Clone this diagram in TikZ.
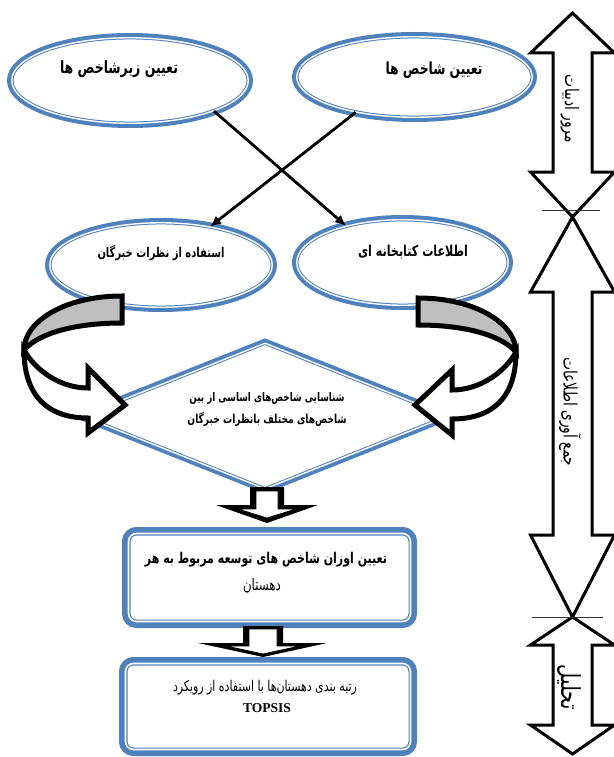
\documentclass[tikz,border=0pt]{standalone}
\usepackage{fontspec}
\usepackage{graphicx}
\usetikzlibrary{shapes.geometric,arrows.meta}
\TeXXeTstate=1
\newfontfamily\fa[Script=Arabic]{DejaVu Sans}
\newfontfamily\tnr{Liberation Serif}
\definecolor{oblue}{RGB}{79,129,189}
\definecolor{bandgray}{RGB}{191,191,191}
\newcommand{\fw}[2]{\scalebox{1}[1.35]{\resizebox{#1pt}{!}{\fa #2}}}
\newcommand{\fwb}[2]{\scalebox{1}[1.35]{\resizebox{#1pt}{!}{\fa\bfseries #2}}}
\tikzset{
  ellbox/.style={ellipse, fill=white, draw=oblue, line width=1pt, double=white, double distance=1.4pt, preaction={draw=oblue, line width=9.5pt}, inner sep=0pt},
  diabox/.style={diamond, aspect=2.5, fill=white, draw=oblue, line width=1pt, double=white, double distance=1.4pt, preaction={draw=oblue, line width=9pt}, inner sep=0pt},
  rbox/.style={rectangle, rounded corners=8pt, fill=white, draw=oblue, line width=1.2pt, double=white, double distance=1.6pt, preaction={draw=oblue, line width=13pt}, inner sep=0pt},
  conn/.style={draw=black, line width=2.8pt, -{Latex[length=11pt,width=10pt]}},
  blk/.style={draw=black, line width=3pt, fill=white, line join=miter},
  band/.style={draw=black, line width=5pt, line join=miter},
  txt/.style={inner sep=0pt},
  thin/.style={draw=black!80, line width=0.8pt}
}
\begin{document}
\begin{tikzpicture}[x=1pt,y=-1pt]
\useasboundingbox (0,0) rectangle (613,757);

% top ellipses
\node[ellbox, minimum width=236.5pt, minimum height=85.5pt] (tl) at (130,80.5) {};
\node[ellbox, minimum width=235.5pt, minimum height=80.5pt] (tr) at (414.5,77) {};
% middle ellipses
\node[ellbox, minimum width=222.5pt, minimum height=84.5pt] (ml) at (161,265) {};
\node[ellbox, minimum width=211.5pt, minimum height=85.5pt] (mr) at (402.5,262.5) {};

\node[txt] (tlT) at (119,69) {\fwb{118}{\beginR تعیین زیرشاخص ها\endR}};
\node[txt] (trT) at (434,70) {\fwb{97}{\beginR تعیین شاخص ها\endR}};
\node[txt] (mlT) at (161,253) {\fwb{127}{\beginR استفاده از نظرات خبرگان\endR}};
\node[txt] (mrT) at (413,252) {\fwb{110}{\beginR اطلاعات کتابخانه ای\endR}};

% crossing connectors
\draw[conn] (tl.-20) -- (mr.147);
\draw[conn] (tr.-149) -- (ml.38);

% diamond
\node[diabox, minimum width=366pt, minimum height=146pt] (dia) at (265,416) {};
\node[txt] (dT1) at (267,398) {\fwb{155}{\beginR شناسایی شاخص‌های اساسی از بین\endR}};
\node[txt] (dT2) at (267,419) {\fwb{159}{\beginR شاخص‌های مختلف بانظرات خبرگان\endR}};

% curved arrows
\begin{scope}
  \filldraw[band, fill=bandgray] (122,296) .. controls (64,296) and (24,322) .. (24,350)
     .. controls (40,332) and (78,323) .. (122,323) -- cycle;
  \filldraw[band, fill=white] (24,350) .. controls (35,370) and (60,388) .. (88,388)
     -- (88,368) -- (125,405) -- (88,433) -- (88,418)
     .. controls (50,418) and (24,398) .. (24,350) -- cycle;
\end{scope}
\begin{scope}[xshift=540pt, xscale=-1]
  \filldraw[band, fill=bandgray] (122,298) .. controls (64,298) and (24,324) .. (24,352)
     .. controls (40,334) and (78,325) .. (122,325) -- cycle;
  \filldraw[band, fill=white] (24,352) .. controls (35,372) and (60,390) .. (88,390)
     -- (88,370) -- (125,405) -- (88,435) -- (88,419)
     .. controls (50,419) and (24,400) .. (24,352) -- cycle;
\end{scope}

% boxes
\node[rbox, minimum width=282pt, minimum height=88pt] (b1) at (269.5,577.5) {};
\node[rbox, minimum width=285pt, minimum height=86pt] (b2) at (268,706.5) {};
\node[txt] (b1T1) at (266,560) {\fwb{242}{\beginR تعیین اوزان شاخص های توسعه مربوط به هر\endR}};
\node[txt] (b1T2) at (262,586) {\fw{38}{\beginR دهستان\endR}};
\node[txt] (b2T1) at (265,688) {\fw{184}{\beginR رتبه بندی دهستان‌ها با استفاده از رویکرد\endR}};
\node[txt] (b2T2) at (267,708) {\resizebox{48pt}{!}{\tnr\bfseries TOPSIS}};

% down block arrows
\fill[black] (250,487) -- (284,487) -- (284,505) -- (318,505) -- (267,523) -- (216,505) -- (250,505) -- cycle;
\filldraw[fill=white, draw=black, line width=0.8pt] (256,491) -- (278,491) -- (278,509) -- (296,509) -- (267,518) -- (238,509) -- (256,509) -- cycle;
\fill[black] (243,626) -- (283,626) -- (283,643) -- (327,643) -- (263,657) -- (198,643) -- (243,643) -- cycle;
\filldraw[fill=white, draw=black, line width=0.8pt] (249,629) -- (277,629) -- (277,646) -- (300,646) -- (263,654) -- (226,646) -- (249,646) -- cycle;

% right double arrows
\draw[blk] (572.5,13) -- (614.5,53) -- (592,53) -- (592,172) -- (614.5,172) -- (572.5,217)
   -- (530.5,172) -- (553,172) -- (553,53) -- (530.5,53) -- cycle;
\draw[blk] (572.5,217) -- (614.5,292) -- (592,292) -- (592,535) -- (614.5,535) -- (572.5,617)
   -- (530.5,535) -- (553,535) -- (553,292) -- (530.5,292) -- cycle;
\draw[blk] (572.5,617) -- (614.5,645) -- (592,645) -- (592,725) -- (614.5,725) -- (572.5,754)
   -- (530.5,725) -- (553,725) -- (553,645) -- (530.5,645) -- cycle;
\coordinate (h1a) at (542,210);
\coordinate (h1b) at (600,210);
\coordinate (h2a) at (532,617);
\coordinate (h2b) at (603,617);
\draw[thin] (h1a) -- (h1b);
\draw[thin] (h2a) -- (h2b);
\node[txt, rotate=-90] (r1T) at (570,109) {\fw{68}{\beginR مرور ادبیات\endR}};
\node[txt, rotate=-90] (r2T) at (570,412) {\fw{109}{\beginR جمع آوری اطلاعات\endR}};
\node[txt, rotate=-90] (r3T) at (569,687) {\fw{45}{\beginR تحلیل\endR}};
\end{tikzpicture}
\end{document}
